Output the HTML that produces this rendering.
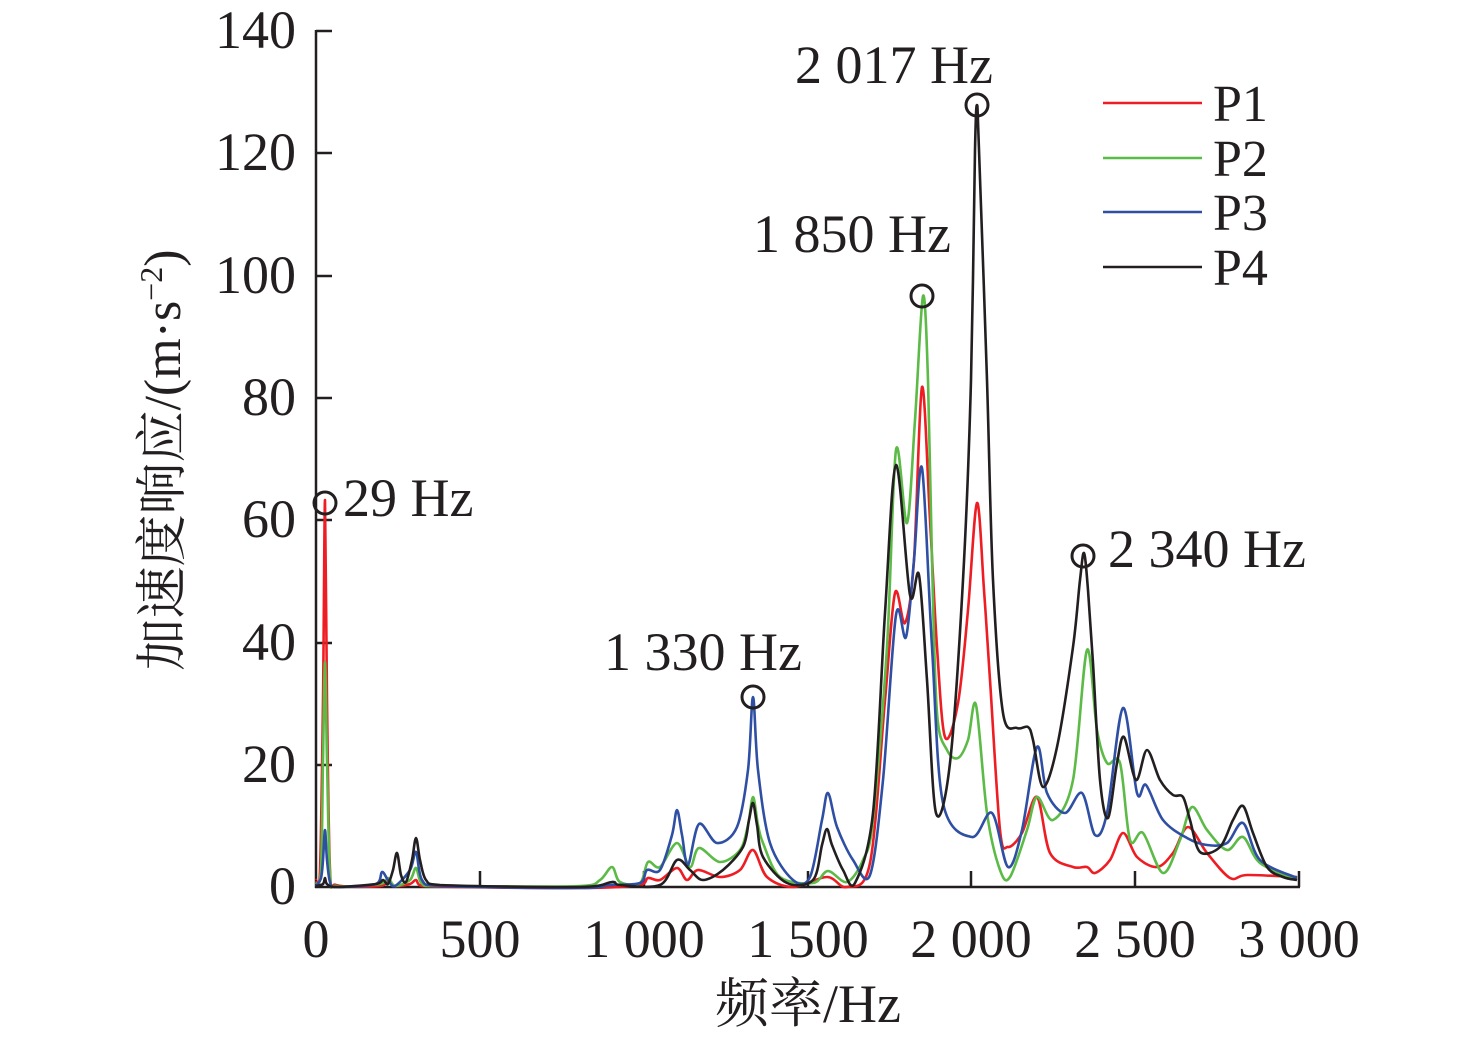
<!DOCTYPE html>
<html><head><meta charset="utf-8"><style>
html,body{margin:0;padding:0;background:#fff;}
svg{display:block}
text{font-family:"Liberation Serif","Noto Serif CJK SC",serif;fill:#231f20}
</style></head><body>
<svg id="s" width="1476" height="1041" viewBox="0 0 1476 1041" xmlns="http://www.w3.org/2000/svg">
<g stroke="#231f20" stroke-width="2.5" fill="none">
<line x1="316" y1="30" x2="316" y2="888"/>
<line x1="315" y1="887" x2="1300" y2="887"/>
<line x1="316" y1="31" x2="332" y2="31"/>
<line x1="316" y1="153" x2="332" y2="153"/>
<line x1="316" y1="276" x2="332" y2="276"/>
<line x1="316" y1="398" x2="332" y2="398"/>
<line x1="316" y1="520" x2="332" y2="520"/>
<line x1="316" y1="643" x2="332" y2="643"/>
<line x1="316" y1="765" x2="332" y2="765"/>
<line x1="480" y1="887" x2="480" y2="871"/>
<line x1="644" y1="887" x2="644" y2="871"/>
<line x1="808" y1="887" x2="808" y2="871"/>
<line x1="971" y1="887" x2="971" y2="871"/>
<line x1="1135" y1="887" x2="1135" y2="871"/>
<line x1="1299" y1="887" x2="1299" y2="871"/>
</g>
<g font-size="54" text-anchor="end">
<text x="296" y="48">140</text>
<text x="296" y="170">120</text>
<text x="296" y="293">100</text>
<text x="296" y="415">80</text>
<text x="296" y="537">60</text>
<text x="296" y="660">40</text>
<text x="296" y="782">20</text>
<text x="296" y="904">0</text>
</g>
<g font-size="54" text-anchor="middle">
<text x="316" y="957">0</text>
<text x="480" y="957">500</text>
<text x="644" y="957">1 000</text>
<text x="808" y="957">1 500</text>
<text x="971" y="957">2 000</text>
<text x="1135" y="957">2 500</text>
<text x="1299" y="957">3 000</text>
<text x="808" y="1022">频率/Hz</text>
</g>
<text font-size="52" text-anchor="middle" transform="translate(180,460) rotate(-90)">加速度响应/(m·s<tspan font-size="32" dy="-18">−2</tspan><tspan dy="18">)</tspan></text>
<g id="curves" fill="none" stroke-width="2.6" stroke-linejoin="round">
<polyline stroke="#ee1d23" points="316,880 320,870 323,700 325,500 327,700 330,870 336,885 380,886 388,880 395,886 410,884 416,880 422,886 580,888 640,885 648,878 660,880 677,868 687,880 698,870 720,877 740,870 753,850 767,877 793,887 827,877 847,887 870,863 885,700 895,593 905,623 914,560 922,387 930,520 937,647 945,737 958,703 968,610 977,503 984,590 990,680 1000,830 1008,847 1022,833 1037,797 1050,853 1073,867 1087,867 1095,873 1110,860 1123,833 1137,857 1157,867 1173,853 1188,827 1207,853 1230,878 1247,875 1297,877"/>
<polyline stroke="#5bbb46" points="316,884 321,870 323,760 325,662 327,760 330,875 336,886 380,884 388,878 395,886 410,880 416,868 422,884 440,886 580,886 600,880 612,867 620,882 640,883 648,862 660,867 677,843 690,867 699,848 720,862 740,850 748,825 753,797 758,825 763,843 780,877 813,883 828,871 847,882 863,860 873,820 887,647 896,450 907,523 915,420 923,296 928,380 932,560 937,713 947,750 958,758 968,740 976,705 987,813 1000,870 1010,877 1027,830 1037,797 1053,820 1073,780 1087,650 1097,730 1107,763 1120,763 1130,840 1143,833 1163,873 1180,840 1192,807 1207,830 1227,850 1243,837 1260,863 1297,880"/>
<polyline stroke="#2e4fa3" points="316,886 321,878 323,860 325,830 327,860 330,882 336,887 376,884 382,872 388,880 395,886 410,870 416,852 422,880 440,886 580,888 610,885 640,883 647,870 660,870 672,835 677,810 682,835 688,865 699,824 717,843 737,827 748,770 753,697 758,770 770,843 793,880 810,877 822,820 828,793 837,827 853,860 870,875 883,780 896,615 906,637 914,560 922,468 932,647 943,803 972,837 992,813 1008,867 1022,830 1037,747 1047,793 1065,813 1082,793 1095,835 1107,813 1123,708 1137,793 1146,785 1163,820 1187,838 1207,845 1227,843 1243,823 1260,860 1297,878"/>
<polyline stroke="#231f20" points="316,886 323,884 325,878 327,884 336,887 376,884 383,880 388,884 393,870 397,853 401,875 406,882 412,860 416,838 420,860 426,880 440,885 580,887 612,882 620,885 660,885 677,860 690,870 703,880 723,870 743,847 749,820 753,803 757,825 763,857 787,883 813,880 822,845 827,829 832,845 843,870 855,883 873,813 885,613 896,465 910,595 919,575 927,680 936,813 950,763 963,580 971,380 975,150 977,105 979,150 987,380 993,580 1003,713 1017,728 1028,727 1033,740 1043,787 1057,747 1073,647 1080,580 1084,553 1088,590 1093,663 1100,780 1108,818 1117,763 1124,737 1136,780 1147,750 1160,780 1173,795 1183,797 1190,820 1200,852 1220,847 1233,820 1243,806 1253,833 1267,867 1283,877 1297,880"/>
</g>
<g fill="none" stroke="#231f20" stroke-width="3">
<circle cx="325" cy="503" r="11"/>
<circle cx="753" cy="697" r="11"/>
<circle cx="922" cy="296" r="11"/>
<circle cx="977" cy="105" r="11"/>
<circle cx="1083" cy="556" r="11"/>
</g>
<g font-size="54">
<text x="343" y="516">29 Hz</text>
<text x="604" y="670">1 330 Hz</text>
<text x="753" y="252">1 850 Hz</text>
<text x="795" y="83">2 017 Hz</text>
<text x="1108" y="567">2 340 Hz</text>
</g>
<g stroke-width="2.6">
<line x1="1103" y1="103" x2="1202" y2="103" stroke="#ee1d23"/>
<line x1="1103" y1="158" x2="1202" y2="158" stroke="#5bbb46"/>
<line x1="1103" y1="212" x2="1202" y2="212" stroke="#2e4fa3"/>
<line x1="1103" y1="267" x2="1202" y2="267" stroke="#231f20"/>
</g>
<g font-size="52">
<text x="1213" y="121">P1</text>
<text x="1213" y="176">P2</text>
<text x="1213" y="230">P3</text>
<text x="1213" y="285">P4</text>
</g>
</svg>
<script>
(function(){
var ns="http://www.w3.org/2000/svg";
var pls=document.querySelectorAll("#curves polyline");
for(var k=0;k<pls.length;k++){
 var pl=pls[k];
 var pts=pl.getAttribute("points").trim().split(/\s+/).map(function(s){var a=s.split(",");return [+a[0],+a[1]];});
 var d="M"+pts[0][0]+","+pts[0][1];
 for(var i=0;i<pts.length-1;i++){
  var p0=pts[i-1]||pts[i],p1=pts[i],p2=pts[i+1],p3=pts[i+2]||p2;
  var t=0.16;
  var c1x=p1[0]+(p2[0]-p0[0])*t,c1y=p1[1]+(p2[1]-p0[1])*t;
  var c2x=p2[0]-(p3[0]-p1[0])*t,c2y=p2[1]-(p3[1]-p1[1])*t;
  c1x=Math.max(Math.min(c1x,p2[0]),p1[0]);c2x=Math.max(Math.min(c2x,p2[0]),p1[0]);
  d+=" C"+c1x.toFixed(1)+","+c1y.toFixed(1)+" "+c2x.toFixed(1)+","+c2y.toFixed(1)+" "+p2[0]+","+p2[1];
 }
 var p=document.createElementNS(ns,"path");
 p.setAttribute("d",d);p.setAttribute("stroke",pl.getAttribute("stroke"));
 pl.parentNode.replaceChild(p,pl);
}
})();
</script>
</body></html>
